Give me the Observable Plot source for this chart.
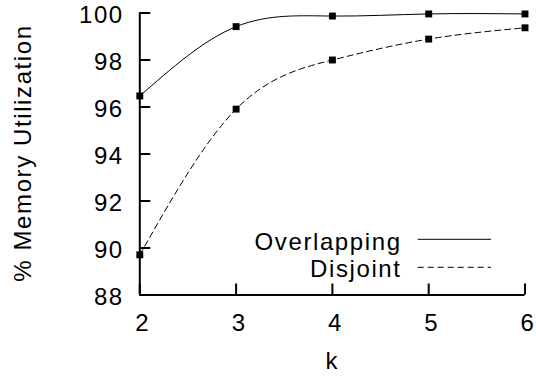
<!DOCTYPE html>
<html><head><meta charset="utf-8">
<script src="https://cdn.jsdelivr.net/npm/d3@7"></script>
<script src="https://cdn.jsdelivr.net/npm/@observablehq/plot@0.6"></script>
<style>body{margin:0;background:#fff}</style>
</head><body><div id="chart"></div>
<script>
const kValues = [2, 3, 4, 5, 6];
const overlapping = [96.47, 99.42, 99.87, 99.96, 99.96];
const disjoint = [89.71, 95.91, 98.0, 98.89, 99.37];
const xTicks = [2, 3, 4, 5, 6];
const yTicks = [88, 90, 92, 94, 96, 98, 100];
const seriesNames = ["Overlapping", "Disjoint"];
const xLabel = "k";
const yLabel = "% Memory Utilization";

const rowsO = kValues.map((k, i) => ({k, v: overlapping[i], s: seriesNames[0]}));
const rowsD = kValues.map((k, i) => ({k, v: disjoint[i], s: seriesNames[1]}));
const rows = [...rowsO, ...rowsD];

const plot = Plot.plot({
  width: 536, height: 379,
  marginLeft: 139.3, marginRight: 11.5, marginTop: 12.5, marginBottom: 84.5,
  style: {fontFamily: '"Liberation Sans", Arial, sans-serif', fontSize: "24px", letterSpacing: "1.6px", color: "#000", background: "#fff"},
  x: {domain: [2, 6]},
  y: {domain: [88, 100]},
  marks: [
    Plot.line(rowsO, {x: "k", y: "v", curve: "natural", stroke: "#000", strokeWidth: 1}),
    Plot.line(rowsD, {x: "k", y: "v", curve: "natural", stroke: "#000", strokeWidth: 1, strokeDasharray: "6,4"}),
    Plot.axisY(yTicks, {anchor: "left", tickSize: 11, dx: 11, fill: "none", strokeWidth: 2, label: null}),
    Plot.axisY(yTicks, {anchor: "left", tickSize: 0, tickPadding: 16, dy: 2, label: null, fontSize: 24}),
    Plot.axisX(xTicks, {anchor: "bottom", tickSize: 11, dy: -11, fill: "none", strokeWidth: 2, label: null}),
    Plot.axisX(xTicks, {anchor: "bottom", tickSize: 0, tickPadding: 19, dx: 3, label: null, fontSize: 24}),
    Plot.ruleX([2], {strokeWidth: 2}),
    Plot.ruleY([88], {strokeWidth: 2}),
    Plot.text([xLabel], {frameAnchor: "bottom", dy: 74, fontSize: 24}),
    Plot.text([yLabel], {frameAnchor: "left", textAnchor: "middle", rotate: -90, dx: -116.7, dy: -1, fontSize: 24}),
    Plot.dot(rows, {x: "k", y: "v", symbol: "square", r: 3.9, fill: "#000", stroke: "none"})
  ]
});
document.getElementById("chart").appendChild(plot);

// legend
const svg = d3.select(plot);
const lg = svg.append("g").attr("font-size", 24).attr("fill", "#000");
const legendItems = [
  {name: seriesNames[0], dash: null, ty: 250, ly: 239.3},
  {name: seriesNames[1], dash: "6,4", ty: 277, ly: 267.3}
];
for (const it of legendItems) {
  lg.append("text").attr("x", 401.6).attr("y", it.ty).attr("text-anchor", "end").text(it.name);
  const ln = lg.append("line").attr("x1", 417.7).attr("x2", 491).attr("y1", it.ly).attr("y2", it.ly)
    .attr("stroke", "#000").attr("stroke-width", 1);
  if (it.dash) ln.attr("stroke-dasharray", it.dash);
}
</script>
</body></html>
